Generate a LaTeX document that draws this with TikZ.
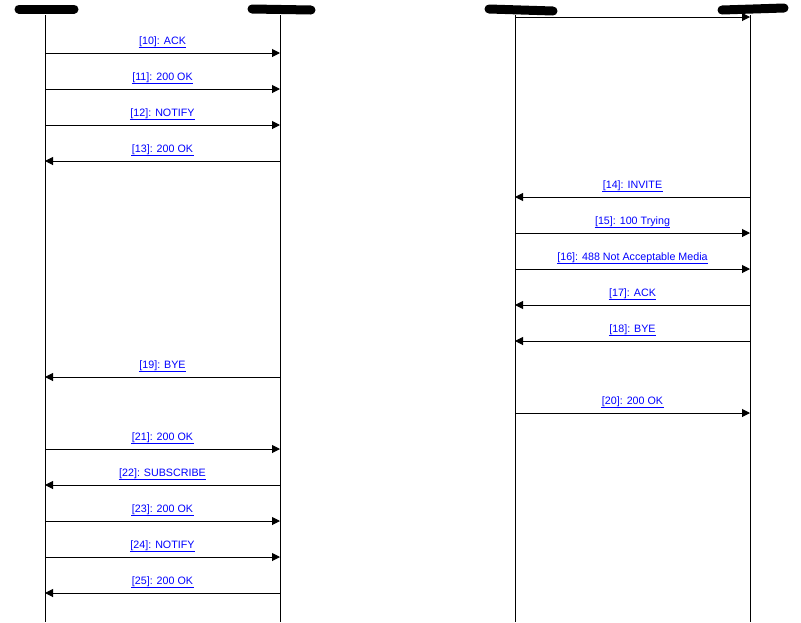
\documentclass[tikz,border=0pt]{standalone}
\usepackage{fontspec}
\setmainfont{Liberation Sans}
\usetikzlibrary{arrows.meta}
\tikzset{
  lifeline/.style={black, line width=1pt},
  msg/.style={black, line width=1pt, -{Triangle[length=8pt,width=8pt]}},
  msglabel/.style={text=blue, font=\fontsize{10.7}{12}\selectfont, inner sep=0pt, above=6pt},
  ulink/.style={blue, line width=1pt},
  redact/.style={black, line width=9pt, line cap=round},
}
\begin{document}
\begin{tikzpicture}[x=1pt, y=-1pt]
    \useasboundingbox (0,0) rectangle (801,622);
    % Lifelines
    \coordinate (A) at (45,0);
    \coordinate (B) at (280,0);
    \coordinate (C) at (515,0);
    \coordinate (D) at (750,0);
    \foreach \p in {A,B,C,D}
        \draw[lifeline] ([yshift=-15pt]\p) -- ([yshift=-622pt]\p);
    % Scribbled-out headers
    \draw[redact] (19,9) -- (74,9);
    \draw[redact] (252,9) -- (311,10);
    \draw[redact] (489,9) -- (553,11);
    \draw[redact] (722,10) -- (784,8);
    % Messages
    \draw[msg] ([yshift=-17pt]C) -- ([yshift=-17pt]D);
    \foreach \y/\f/\t/\txt in {
        53/A/B/{[10]: ACK}, 89/A/B/{[11]: 200 OK}, 125/A/B/{[12]: NOTIFY},
        161/B/A/{[13]: 200 OK}, 197/D/C/{[14]: INVITE}, 233/C/D/{[15]: 100 Trying},
        269/C/D/{[16]: 488 Not Acceptable Media}, 305/D/C/{[17]: ACK},
        341/D/C/{[18]: BYE}, 377/B/A/{[19]: BYE}, 413/C/D/{[20]: 200 OK},
        449/A/B/{[21]: 200 OK}, 485/B/A/{[22]: SUBSCRIBE}, 521/A/B/{[23]: 200 OK},
        557/A/B/{[24]: NOTIFY}, 593/B/A/{[25]: 200 OK}} {
        \draw[msg] ([yshift=-\y pt]\f) -- ([yshift=-\y pt]\t)
            node[msglabel, midway] (l\y) {\txt};
        \draw[ulink] (l\y.south west) -- (l\y.south east);
    }
\end{tikzpicture}
\end{document}
